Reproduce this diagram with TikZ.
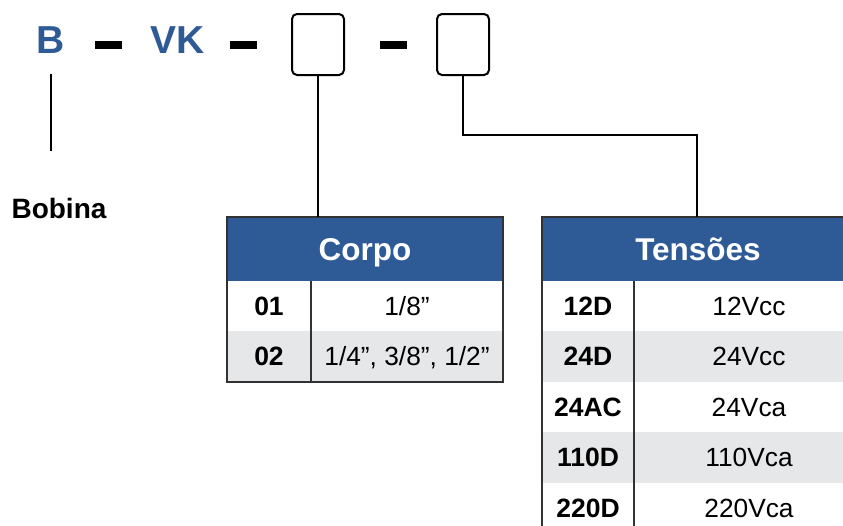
\documentclass[tikz,border=0pt]{standalone}
\usepackage{fontspec}
\setmainfont{Liberation Sans}
\definecolor{hblue}{RGB}{46,90,150}
\definecolor{rowgray}{RGB}{230,231,232}
\definecolor{bordergray}{RGB}{50,50,50}
\begin{document}
\begin{tikzpicture}[x=1pt,y=-1pt,
  codetxt/.style={inner sep=0pt, text=hblue, font=\fontsize{39}{39}\selectfont\bfseries, text height=28pt, text depth=0pt},
  dashbar/.style={fill=black, inner sep=0pt, minimum width=27pt, minimum height=8pt},
  slot/.style={draw=black, line width=2pt, rounded corners=5pt, minimum width=52pt, minimum height=61pt, inner sep=0pt},
  conn/.style={line width=2pt, draw=black},
  hdr/.style={fill=hblue, text=white, inner sep=0pt, minimum height=64pt, font=\fontsize{31.5}{31.5}\selectfont\bfseries, text height=22pt, text depth=0pt},
  keycell/.style={inner sep=0pt, minimum height=50.5pt, font=\fontsize{26.5}{26.5}\selectfont\bfseries, text height=18pt, text depth=0pt},
  valcell/.style={inner sep=0pt, minimum height=50.5pt, font=\fontsize{26.3}{26.3}\selectfont, text height=18pt, text depth=0pt},
  tborder/.style={draw=bordergray, line width=1.5pt},
]
\useasboundingbox (0,0) rectangle (843,525);
\clip (0,0) rectangle (843,525);

% code row
\node[codetxt] (b) at (51,39) {B};
\node[dashbar] (d1) at (108.5,45) {};
\node[codetxt] (vk) at (177.5,39) {VK};
\node[dashbar] (d2) at (243,45) {};
\node[slot] (box1) at (318,44.5) {};
\node[dashbar] (d3) at (393,45) {};
\node[slot] (box2) at (463,44.5) {};

% Bobina
\coordinate (bTop) at (51,74);
\coordinate (bBot) at (51,151);
\draw[line width=2pt] (bTop) -- (bBot);
\node[inner sep=0pt, font=\fontsize{28}{28}\selectfont\bfseries, text height=20pt, text depth=0pt] (bobina) at (59,208) {Bobina};

% Corpo table
\node[hdr, minimum width=276pt] (corpoHead) at (365,249) {Corpo};
\node[keycell, minimum width=84pt] (c1k) at (269,306) {01};
\node[valcell, minimum width=192pt] (c1v) at (407,306) {1/8”};
\node[keycell, minimum width=84pt, fill=rowgray] (c2k) at (269,356.5) {02};
\node[valcell, minimum width=192pt, fill=rowgray] (c2v) at (407,356.5) {1/4”, 3/8”, 1/2”};
\draw[tborder] (corpoHead.south west) -- (corpoHead.north west) -- (corpoHead.north east) -- (corpoHead.south east);
\draw[tborder] (corpoHead.south west) -- (c2k.south west) -- (c2v.south east) -- (corpoHead.south east);
\draw[tborder] (c1k.north east) -- (c2k.south east);

% Tensoes table
\node[hdr, minimum width=312pt] (tensHead) at (698,249) {Tensões};
\node[keycell, minimum width=92pt] (t1k) at (588,306) {12D};
\node[valcell, minimum width=230pt] (t1v) at (749,306) {12Vcc};
\node[keycell, minimum width=92pt, fill=rowgray] (t2k) at (588,356.5) {24D};
\node[valcell, minimum width=230pt, fill=rowgray] (t2v) at (749,356.5) {24Vcc};
\node[keycell, minimum width=92pt] (t3k) at (588,407) {24AC};
\node[valcell, minimum width=230pt] (t3v) at (749,407) {24Vca};
\node[keycell, minimum width=92pt, fill=rowgray] (t4k) at (588,457.5) {110D};
\node[valcell, minimum width=230pt, fill=rowgray] (t4v) at (749,457.5) {110Vca};
\node[keycell, minimum width=92pt] (t5k) at (588,508) {220D};
\node[valcell, minimum width=230pt] (t5v) at (749,508) {220Vca};
\draw[tborder] (tensHead.south west) -- (tensHead.north west) -- (tensHead.north east);
\draw[tborder] (tensHead.south west) -- (t5k.south west);
\draw[tborder] (t1k.north east) -- (t5k.south east);

% connectors
\draw[conn] (box1.south) -- (box1.south |- corpoHead.north);
\coordinate (bend) at (697,135);
\draw[conn] (box2.south) |- (bend) -- (bend |- tensHead.north);
\end{tikzpicture}
\end{document}
